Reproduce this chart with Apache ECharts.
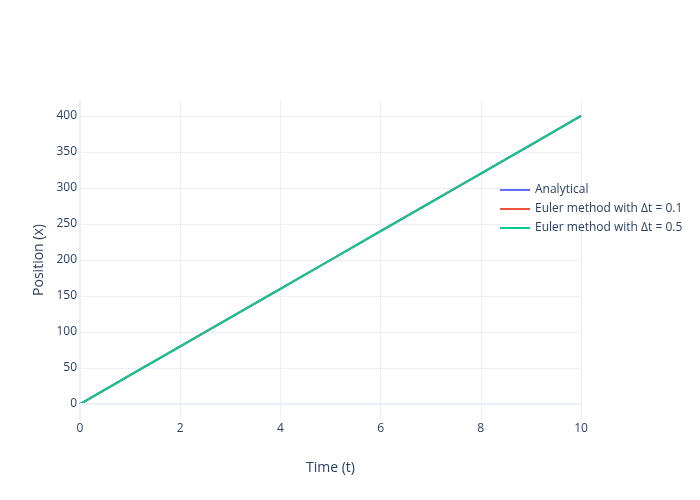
<!DOCTYPE html>
<html>
<head>
<meta charset="utf-8">
<script src="https://cdn.jsdelivr.net/npm/echarts@6/dist/echarts.min.js"></script>
<style>html,body{margin:0;padding:0;background:#fff;}#c{width:700px;height:500px;}</style>
</head>
<body>
<div id="c"></div>
<script>
const seriesNames = ['Analytical', 'Euler method with Δt = 0.1', 'Euler method with Δt = 0.5'];
const tAnalytical = [0, 1, 2, 3, 4, 5, 6, 7, 8, 9, 10];
const xAnalytical = [0, 40, 80, 120, 160, 200, 240, 280, 320, 360, 400];
const tEuler01 = [0, 1, 2, 3, 4, 5, 6, 7, 8, 9, 10];
const xEuler01 = [0, 40, 80, 120, 160, 200, 240, 280, 320, 360, 400];
const tEuler05 = [0, 0.5, 1, 1.5, 2, 2.5, 3, 3.5, 4, 4.5, 5, 5.5, 6, 6.5, 7, 7.5, 8, 8.5, 9, 9.5, 10];
const xEuler05 = [0, 20, 40, 60, 80, 100, 120, 140, 160, 180, 200, 220, 240, 260, 280, 300, 320, 340, 360, 380, 400];
const yTicks = [0, 50, 100, 150, 200, 250, 300, 350, 400];
const colors = ['#636efa', '#EF553B', '#00cc96'];

const pairs = (t, x) => t.map((v, i) => [v, x[i]]);
const font = '"Open Sans", "Noto Sans", sans-serif';
const txt = '#2a3f5f';
const grid = '#EBF0F8';

const chart = echarts.init(document.getElementById('c'), null, {renderer: 'canvas'});
chart.setOption({
  animation: false,
  backgroundColor: '#fff',
  textStyle: {fontFamily: font, color: txt},
  grid: {left: 80, right: 119, top: 100, bottom: 80, containLabel: false},
  legend: {
    left: 495, top: 179, orient: 'vertical',
    itemWidth: 30, itemHeight: 2, itemGap: 7,
    icon: 'rect',
    textStyle: {fontFamily: font, fontSize: 12, color: txt, padding: [0, 0, 0, 0]},
    data: seriesNames
  },
  xAxis: {
    type: 'value', min: 0, max: 10, interval: 2,
    name: 'Time (t)', nameLocation: 'middle', nameGap: 41,
    nameTextStyle: {fontFamily: font, fontSize: 14, color: txt},
    axisLine: {show: false},
    axisTick: {show: false},
    axisLabel: {margin: 3, fontFamily: font, fontSize: 12, color: txt},
    splitLine: {show: true, lineStyle: {color: grid, width: 1}}
  },
  yAxis: {
    type: 'value', min: -22.2, max: 422.2,
    name: 'Position (x)', nameLocation: 'middle', nameGap: 34,
    nameTextStyle: {fontFamily: font, fontSize: 14, color: txt},
    axisLine: {show: true, lineStyle: {color: grid, width: 2}},
    axisTick: {show: false, customValues: yTicks},
    axisLabel: {margin: 3, fontFamily: font, fontSize: 12, color: txt, customValues: yTicks},
    splitLine: {show: true, lineStyle: {color: grid, width: 1}}
  },
  series: [
    {name: seriesNames[0], type: 'line', data: pairs(tAnalytical, xAnalytical), showSymbol: false, symbol: 'none',
     lineStyle: {color: colors[0], width: 2}, itemStyle: {color: colors[0]},
     markLine: {silent: true, symbol: 'none', label: {show: false}, animation: false,
       lineStyle: {color: grid, width: 2, type: 'solid'}, data: [{yAxis: 0}]}, z: 1},
    {name: seriesNames[1], type: 'line', data: pairs(tEuler01, xEuler01), showSymbol: false, symbol: 'none',
     lineStyle: {color: colors[1], width: 2}, itemStyle: {color: colors[1]}, z: 2},
    {name: seriesNames[2], type: 'line', data: pairs(tEuler05, xEuler05), showSymbol: false, symbol: 'none',
     lineStyle: {color: colors[2], width: 2}, itemStyle: {color: colors[2]}, z: 3}
  ]
});
</script>
</body>
</html>
